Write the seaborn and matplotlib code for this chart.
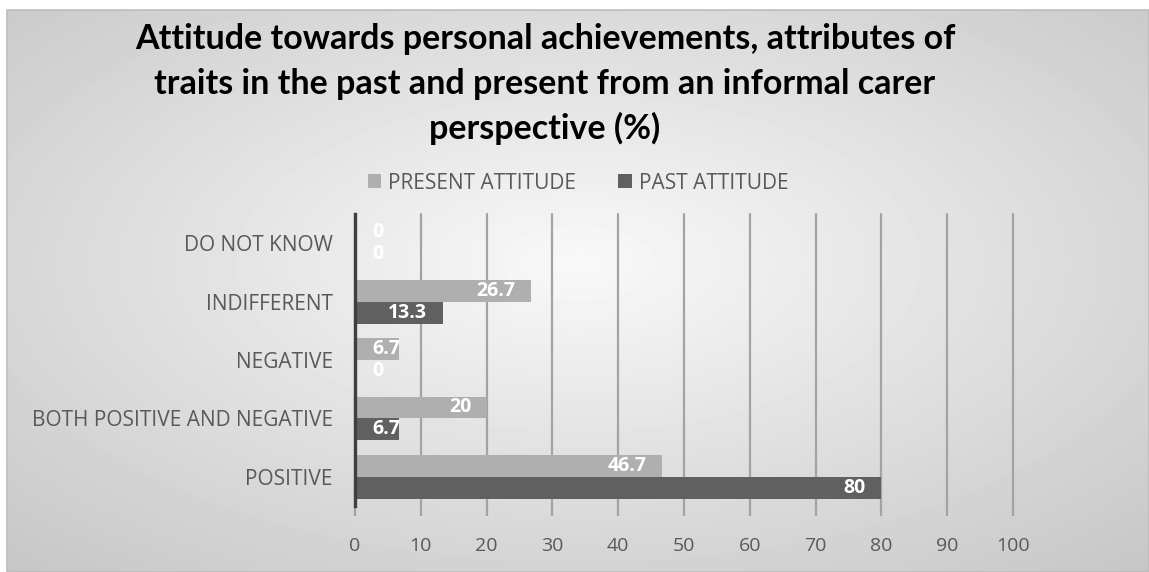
import numpy as np
import pandas as pd
import seaborn as sns
import matplotlib
matplotlib.use("Agg")
import matplotlib.pyplot as plt
from matplotlib.patches import Rectangle, Patch

categories = ["DO NOT KNOW", "INDIFFERENT", "NEGATIVE", "BOTH POSITIVE AND NEGATIVE", "POSITIVE"]
present_attitude = [0, 26.7, 6.7, 20, 46.7]
past_attitude = [0, 13.3, 0, 6.7, 80]
series_names = ["PRESENT ATTITUDE", "PAST ATTITUDE"]
x_ticks = [0, 10, 20, 30, 40, 50, 60, 70, 80, 90, 100]
title_lines = ["Attitude towards personal achievements, attributes of",
               "traits in the past and present from an informal carer",
               "perspective (%)"]

df = pd.DataFrame({
    "category": categories * 2,
    "value": present_attitude + past_attitude,
    "series": [series_names[0]] * len(categories) + [series_names[1]] * len(categories),
})

sns.set_theme(style="white")
plt.rcParams["font.family"] = ["Open Sans", "DejaVu Sans"]

LIGHT = "#afafaf"
DARK = "#606060"
W, H = 1149, 572
fig = plt.figure(figsize=(W / 100, H / 100), dpi=100)
fig.patch.set_facecolor("white")

# radial gradient background
bx0, by_top = 7, 10
bw, bh = W - bx0, H - by_top
bg = fig.add_axes([bx0 / W, 0, bw / W, bh / H], zorder=0)
yy, xx = np.mgrid[0:bh, 0:bw]
cx, cy = bw * 0.50, bh * 0.45
r = np.sqrt(((xx - cx) / (bw / 2)) ** 2 + ((yy - cy) / (bh / 2)) ** 2) / np.sqrt(2)
val = 0.975 - 0.19 * np.clip(r, 0, 1.2)
bg.imshow(val, cmap="gray", vmin=0, vmax=1, aspect="auto", extent=[0, 1, 0, 1],
          interpolation="bilinear", origin="upper")
bg.set_xlim(0, 1); bg.set_ylim(0, 1)
bg.axis("off")
fig.patches.append(Rectangle((bx0 / W, 0), bw / W, bh / H, transform=fig.transFigure,
                             fill=False, edgecolor="#bdbdbd", linewidth=1.2, zorder=0.5))

ax = fig.add_axes([355 / W, 1 - 506 / H, 658 / W, 292 / H], zorder=1)
ax.patch.set_alpha(0)
sns.barplot(data=df, y="category", x="value", hue="series", order=categories,
            hue_order=series_names, palette=[LIGHT, DARK], orient="h", width=0.75,
            saturation=1, linewidth=0, ax=ax, legend=False)

ax.set_xlim(0, 100)
ax.set_xticks(x_ticks)
ax.set_xlabel(""); ax.set_ylabel("")
ax.grid(axis="x", color="#a3a3a3", linewidth=1.6)
ax.grid(axis="y", visible=False)
for gl in ax.get_xgridlines():
    gl.set_clip_on(False)
ax.set_axisbelow(True)
for s in ["top", "right", "bottom"]:
    ax.spines[s].set_visible(False)
ax.spines["left"].set_color("#3f3f3f")
ax.spines["left"].set_linewidth(2.4)
ax.spines["left"].set_zorder(3)
ax.tick_params(axis="x", length=7, width=1.6, color="#a3a3a3", labelcolor="#595959",
               labelsize=14, pad=15, direction="out", bottom=True)
ax.tick_params(axis="y", length=0, labelcolor="#595959", labelsize=15, pad=16)

for container in ax.containers:
    for bar in container:
        v = bar.get_width()
        yc = bar.get_y() + bar.get_height() / 2
        lab = f"{v:g}"
        if v >= 10:
            ax.annotate(lab, (v, yc), xytext=(-11, 0), textcoords="offset points",
                        ha="right", va="center", color="white", fontweight="bold",
                        fontsize=14, zorder=4)
        else:
            ax.annotate(lab, (0, yc), xytext=(12.5, 0), textcoords="offset points",
                        ha="left", va="center", color="white", fontweight="bold",
                        fontsize=14, zorder=4)

handles = [Patch(facecolor=LIGHT, edgecolor="none", label=series_names[0]),
           Patch(facecolor=DARK, edgecolor="none", label=series_names[1])]
fig.legend(handles=handles, loc="center", bbox_to_anchor=(578 / W, 1 - 183 / H), ncol=2,
           frameon=False, fontsize=15, handlelength=0.65, handleheight=0.65,
           handletextpad=0.35, columnspacing=2.0, labelcolor="#595959")

for i, line in enumerate(title_lines):
    fig.text(545 / W, 1 - (49 + 45 * i) / H, line, ha="center", va="baseline",
             fontsize=24.5, fontweight="bold", color="black",
             family=["Lato", "DejaVu Sans"])

fig.savefig("out.png", dpi=100)
